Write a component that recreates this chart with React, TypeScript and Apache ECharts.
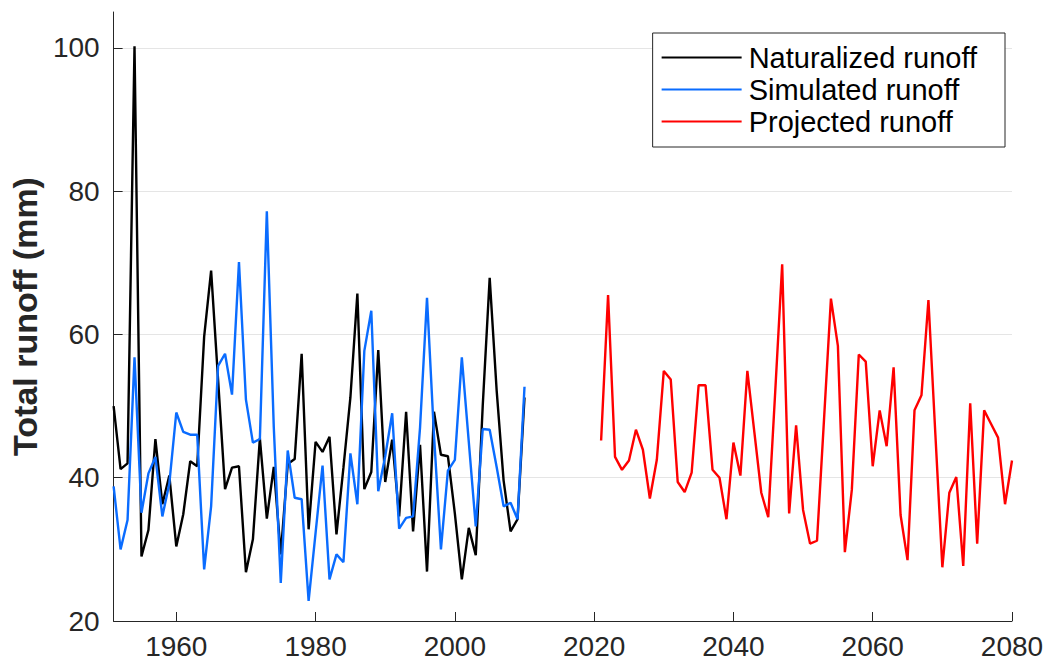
import React, { useEffect, useRef } from "react";
import * as echarts from "echarts";

const naturalizedStart = 1951;
const naturalized = [
  50.0, 41.2, 42.0, 100.2, 29.0, 32.7, 45.4, 36.3, 40.3, 30.4,
  34.9, 42.3, 41.6, 59.7, 68.9, 53.7, 38.4, 41.4, 41.6, 26.8,
  31.4, 45.5, 34.3, 41.5, 29.3, 41.9, 42.6, 57.3, 32.8, 45.0,
  43.6, 45.7, 32.1, 41.4, 51.2, 65.7, 38.4, 40.8, 57.8, 39.4,
  45.3, 34.6, 49.2, 32.5, 44.6, 26.9, 49.2, 43.2, 43.0, 35.0,
  25.8, 33.0, 29.2, 50.0, 67.9, 52.2, 39.6, 32.5, 34.2, 51.2,
];

const simulatedStart = 1951;
const simulated = [
  38.8, 30.0, 34.1, 56.8, 35.1, 40.6, 42.9, 34.6, 39.2, 49.1,
  46.4, 46.0, 46.0, 27.2, 36.0, 55.6, 57.3, 51.6, 70.1, 50.9,
  44.9, 45.4, 77.2, 47.0, 25.3, 43.8, 37.2, 37.0, 22.8, 32.3,
  41.7, 25.8, 29.3, 28.2, 43.4, 36.3, 57.7, 63.3, 38.1, 43.0,
  49.0, 32.9, 34.4, 34.6, 47.0, 65.1, 46.0, 30.0, 41.0, 42.5,
  56.8, 45.0, 33.2, 46.8, 46.7, 41.5, 36.0, 36.5, 34.2, 52.7,
];

const projectedStart = 2021;
const projected = [
  45.2, 65.5, 42.9, 41.1, 42.4, 46.7, 43.9, 37.1, 42.5, 54.9,
  53.7, 39.4, 38.0, 40.7, 52.9, 52.9, 41.1, 40.0, 34.2, 44.9,
  40.3, 54.9, 46.4, 37.9, 34.5, 52.0, 69.8, 35.0, 47.3, 35.5,
  30.8, 31.2, 48.0, 65.0, 58.4, 29.6, 38.3, 57.2, 56.2, 41.6,
  49.4, 44.4, 55.4, 34.8, 28.5, 49.4, 51.5, 64.8, 46.0, 27.5,
  37.9, 40.1, 27.7, 50.4, 30.8, 49.4, 47.5, 45.6, 36.3, 42.4,
];

const xTicks = [1960, 1980, 2000, 2020, 2040, 2060, 2080];
const yTicks = [20, 40, 60, 80, 100];
const seriesNames = ["Naturalized runoff", "Simulated runoff", "Projected runoff"];
const seriesColors = ["#000000", "#0a6cff", "#ff0000"];

const toPairs = (start: number, vals: number[]) => vals.map((v, i) => [start + i, v]);

export default function App() {
  const ref = useRef<HTMLDivElement>(null);
  useEffect(() => {
    if (!ref.current) return;
    const chart = echarts.init(ref.current, undefined, { renderer: "svg" });
    const font = "'Liberation Sans', Arial, Helvetica, sans-serif";
    const axisColor = "#262626";
    const datasets = [
      toPairs(naturalizedStart, naturalized),
      toPairs(simulatedStart, simulated),
      toPairs(projectedStart, projected),
    ];
    chart.setOption({
      animation: false,
      backgroundColor: "#ffffff",
      grid: { left: 113, right: 37, top: 12, bottom: 46, containLabel: false },
      legend: {
        right: 44,
        top: 33,
        orient: "vertical",
        icon: "rect",
        itemWidth: 80,
        itemHeight: 2,
        itemGap: 3,
        padding: [10, 28, 11, 9],
        borderColor: "#262626",
        borderWidth: 1,
        backgroundColor: "#ffffff",
        textStyle: { fontFamily: font, fontSize: 29, color: "#000000", padding: [0, 0, 0, 2] },
        data: seriesNames,
      },
      xAxis: {
        type: "value",
        min: 1951,
        max: 2080,
        axisLine: { show: true, lineStyle: { color: axisColor, width: 1 } },
        axisTick: { show: true, inside: true, length: 9, customValues: xTicks, lineStyle: { color: axisColor } },
        axisLabel: {
          customValues: xTicks,
          formatter: (v: number) => String(v),
          fontFamily: font,
          fontSize: 28,
          color: axisColor,
          margin: 11,
        },
        splitLine: { show: false },
      },
      yAxis: {
        type: "value",
        min: 20,
        max: 105,
        name: "Total runoff (mm)",
        nameLocation: "middle",
        nameGap: 64,
        nameTextStyle: { fontFamily: font, fontSize: 34, fontWeight: "bold", color: axisColor },
        axisLine: { show: true, lineStyle: { color: axisColor, width: 1 } },
        axisTick: { show: true, inside: true, length: 9, customValues: yTicks, lineStyle: { color: axisColor } },
        axisLabel: { customValues: yTicks, fontFamily: font, fontSize: 28, color: axisColor, margin: 14 },
        splitLine: { show: true, lineStyle: { color: "#e5e5e5", width: 1 } },
      },
      series: seriesNames.map((name, i) => ({
        name,
        type: "line",
        data: datasets[i],
        showSymbol: false,
        symbol: "none",
        clip: false,
        lineStyle: { color: seriesColors[i], width: 2.4 },
        itemStyle: { color: seriesColors[i] },
      })),
    });
    return () => chart.dispose();
  }, []);
  return (
    <div
      ref={ref}
      style={{ position: "fixed", left: 0, top: 0, width: 1049, height: 667, background: "#fff" }}
    />
  );
}
